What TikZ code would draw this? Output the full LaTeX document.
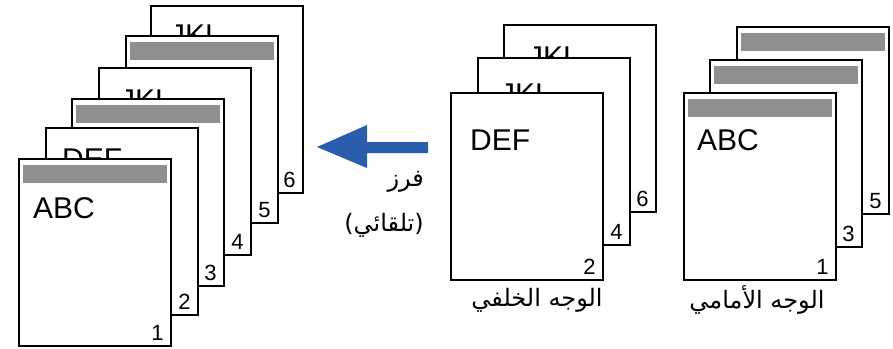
\documentclass[tikz,border=0pt]{standalone}
\usepackage{fontspec}
\setmainfont{Liberation Sans}
\newfontfamily\arabicfont[Script=Arabic]{DejaVu Sans}
\TeXXeTstate=1
\definecolor{bargray}{RGB}{143,143,146}
\definecolor{arrowblue}{RGB}{43,93,174}
\tikzset{
  page/.style={draw=black, fill=white, line width=1.8pt, minimum width=152pt, minimum height=187pt, inner sep=0pt, anchor=north west},
  bigtxt/.style={font=\fontsize{30}{30}\selectfont, inner sep=0pt, anchor=base west},
  pnum/.style={font=\fontsize{22}{22}\selectfont, inner sep=0pt, anchor=base east},
  artxt/.style={font=\arabicfont\fontsize{24}{28}\selectfont, inner sep=0pt},
}
\newcommand{\graybar}[1]{\fill[bargray] ([shift={(5pt,-7pt)}]#1.north west) rectangle ([shift={(-5pt,-25pt)}]#1.north east);}
\begin{document}
\begin{tikzpicture}[x=1pt,y=-1pt]
\useasboundingbox (0,0) rectangle (893,348);
% ---------- left stack ----------
\node[page] (L6) at (150,5) {};
\node[bigtxt] (L6t) at ([shift={(20pt,-40pt)}]L6.north west) {JKL};
\node[pnum] (L6n) at ([shift={(-8pt,6pt)}]L6.south east) {6};
\node[page] (L5) at (125,35) {};
\graybar{L5}
\node[pnum] (L5n) at ([shift={(-8pt,6pt)}]L5.south east) {5};
\node[page] (L4) at (98,67) {};
\node[bigtxt] (L4t) at ([shift={(22pt,-43pt)}]L4.north west) {JKL};
\node[pnum] (L4n) at ([shift={(-8pt,6pt)}]L4.south east) {4};
\node[page] (L3) at (71,98) {};
\graybar{L3}
\node[pnum] (L3n) at ([shift={(-8pt,6pt)}]L3.south east) {3};
\node[page] (L2) at (45,127) {};
\node[bigtxt] (L2t) at ([shift={(17pt,-42pt)}]L2.north west) {DEF};
\node[pnum] (L2n) at ([shift={(-8pt,6pt)}]L2.south east) {2};
\node[page] (L1) at (18,158) {};
\graybar{L1}
\node[bigtxt] (L1t) at ([shift={(15pt,-60pt)}]L1.north west) {ABC};
\node[pnum] (L1n) at ([shift={(-8pt,6pt)}]L1.south east) {1};
% ---------- middle stack ----------
\node[page] (M6) at (503,24) {};
\node[bigtxt] (M6t) at ([shift={(25pt,-43pt)}]M6.north west) {JKL};
\node[pnum] (M6n) at ([shift={(-8pt,6pt)}]M6.south east) {6};
\node[page] (M4) at (477,57) {};
\node[bigtxt] (M4t) at ([shift={(23pt,-47pt)}]M4.north west) {JKL};
\node[pnum] (M4n) at ([shift={(-8pt,6pt)}]M4.south east) {4};
\node[page] (M2) at (450,92) {};
\node[bigtxt] (M2t) at ([shift={(20pt,-58pt)}]M2.north west) {DEF};
\node[pnum] (M2n) at ([shift={(-8pt,6pt)}]M2.south east) {2};
\node[artxt] (Mlab) at (537,300) {\beginR الوجه الخلفي\endR};
% ---------- right stack ----------
\node[page] (R5) at (736,26) {};
\graybar{R5}
\node[pnum] (R5n) at ([shift={(-8pt,6pt)}]R5.south east) {5};
\node[page] (R3) at (709,59) {};
\graybar{R3}
\node[pnum] (R3n) at ([shift={(-8pt,6pt)}]R3.south east) {3};
\node[page] (R1) at (683,92) {};
\graybar{R1}
\node[bigtxt] (R1t) at ([shift={(14pt,-58pt)}]R1.north west) {ABC};
\node[pnum] (R1n) at ([shift={(-8pt,6pt)}]R1.south east) {1};
\node[artxt] (Rlab) at (757,300) {\beginR الوجه الأمامي\endR};
% ---------- arrow ----------
\fill[arrowblue] (317,147) -- (367,125) -- (367,142) -- (428,142) -- (428,153) -- (367,153) -- (367,168) -- cycle;
\node[artxt, anchor=east] (A1) at (424,182) {\beginR فرز\endR};
\node[artxt, anchor=east] (A2) at (424,225) {\beginR(تلقائي)\endR};
\end{tikzpicture}
\end{document}
